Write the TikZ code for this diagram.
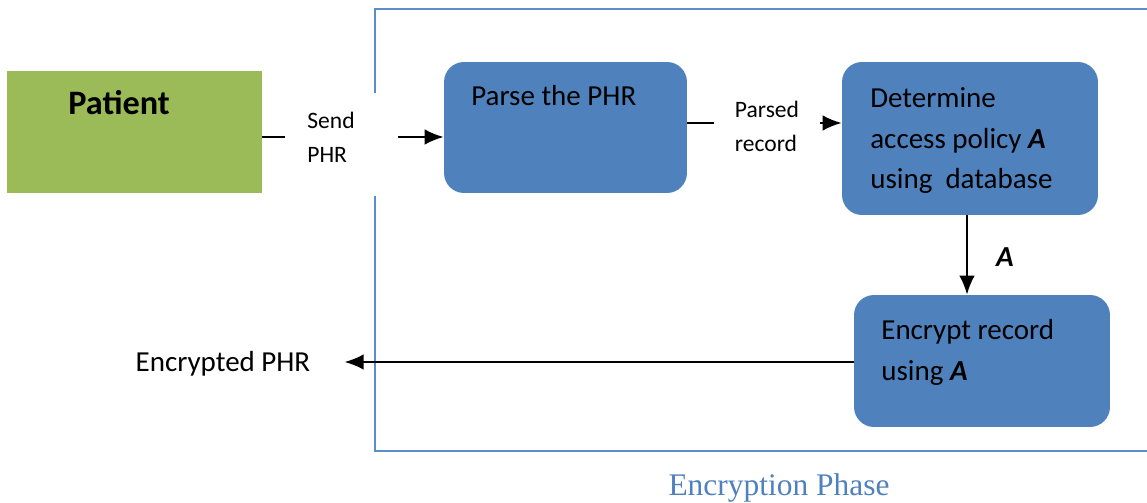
\documentclass[tikz,border=0pt]{standalone}
\usepackage{fontspec}
\setmainfont{Carlito}
\newfontfamily\phasefont{Liberation Serif}
\usepackage{xcolor}
\usepackage{tikz}
\usetikzlibrary{arrows.meta,positioning}
\definecolor{boxblue}{HTML}{4F81BD}
\definecolor{boxgreen}{HTML}{9BBB59}
\definecolor{framecol}{HTML}{5B8DCB}

\begin{document}
\begin{tikzpicture}[x=0.02cm,y=-0.02cm,
    stepbox/.style={rectangle,rounded corners=0.4cm,fill=boxblue,draw=none},
    boxtext/.style={inner sep=0pt,align=left,font=\fontsize{16.5}{23.2}\selectfont},
    flowlabel/.style={inner sep=0pt,align=left,font=\fontsize{13.4}{19.3}\selectfont},
    arrow/.style={line width=1.1pt,-{Latex[length=3.8mm,width=3.1mm]}},
    plain/.style={line width=1.1pt}]
    \useasboundingbox (0,0) rectangle (1147,503);

    % frame of the phase
    \draw[framecol,line width=1.1pt] (375,9) rectangle (1152,451);
    \node[text=boxblue,font=\phasefont\fontsize{17.9}{20}\selectfont] (phase) at (779,488) {Encryption Phase};

    % boxes
    \node[fill=boxgreen,minimum width=5.1cm,minimum height=2.44cm] (patient) at (134.5,132) {};
    \node[stepbox,minimum width=4.86cm,minimum height=2.62cm] (parse) at (565.5,127.5) {};
    \node[stepbox,minimum width=5.12cm,minimum height=3.06cm] (determine) at (970,138.5) {};
    \node[stepbox,minimum width=5.12cm,minimum height=2.64cm] (encrypt) at (982,361) {};

    % texts in the boxes
    \node[boxtext,anchor=base west,font=\fontsize{19.5}{23}\selectfont\bfseries] (patienttext) at (68,115) {Patient};
    \node[boxtext,anchor=base west] (parsetext) at (471,106) {Parse the PHR};
    \node[boxtext,anchor=north west] (determinetext) at (870,87) {Determine\\access policy \textbf{\textit{A}}\\using~ database};
    \node[boxtext,anchor=north west] (encrypttext) at (881,319) {Encrypt record\\using \textbf{\textit{A}}};

    % patient to parse
    \node[fill=white,minimum width=2.26cm,minimum height=2.06cm,inner sep=0pt] (sendgap) at (341.5,144.5) {};
    \node[flowlabel] (send) at (331,137) {Send\\PHR};
    \draw[plain] (patient.east |- send) -- (sendgap.west |- send);
    \draw[arrow] (sendgap.east |- send) -- (parse.west |- send);

    % parse to determine
    \node[flowlabel,inner xsep=0.42cm] (parsed) at (767,126) {Parsed\\record};
    \draw[plain] (parse.east |- 0,123) -- (parsed.west |- 0,123);
    \draw[arrow] (parsed.east |- 0,123) -- (determine.west |- 0,123);

    % determine to encrypt
    \draw[arrow] (determine.south -| 967,0) -- (encrypt.north -| 967,0);
    \node[font=\fontsize{16.5}{20}\selectfont\bfseries\itshape] (policy) at (1005,257) {A};

    % encrypt to output
    \node[boxtext,inner xsep=0.68cm] (out) at (223,364) {Encrypted PHR};
    \draw[arrow] (encrypt.west |- 0,362) -- (out.east |- 0,362);
\end{tikzpicture}
\end{document}
